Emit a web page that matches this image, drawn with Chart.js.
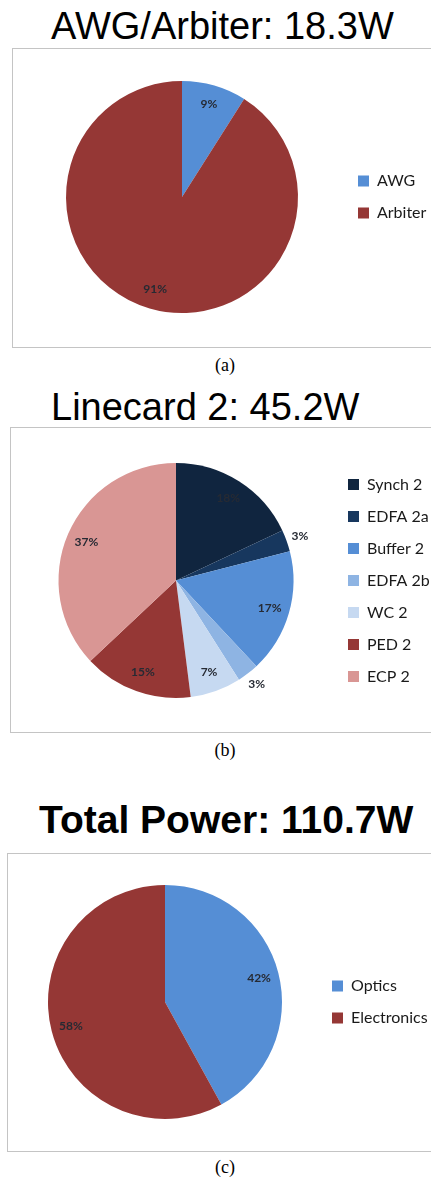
<!DOCTYPE html>
<html>
<head>
<meta charset="utf-8">
<script src="https://cdn.jsdelivr.net/npm/chart.js@4/dist/chart.umd.min.js"></script>
<style>
  html, body { margin: 0; padding: 0; background: #fff; }
  body { width: 431px; height: 1178px; position: relative; overflow: hidden; }
  .title { position: absolute; font-family: "Liberation Sans", Arial, sans-serif; font-size: 38px; line-height: 38px; color: #000; white-space: nowrap; }
  .bold { font-weight: bold; font-size: 39px; line-height: 39px; }
  .box { position: absolute; border: 1px solid #c4c4c4; box-sizing: border-box; width: 470px; }
  .cap { position: absolute; left: 0; width: 450px; text-align: center; font-family: "Liberation Serif", "Times New Roman", serif; font-size: 18px; line-height: 18px; color: #000; }
  canvas { position: absolute; }
</style>
</head>
<body>
<div class="title" style="left:51px; top:7px;">AWG/Arbiter: 18.3W</div>
<div class="box" style="left:12px; top:48px; height:300px;"></div>
<canvas id="pieA" width="460" height="300" style="left:12px; top:48px;"></canvas>
<div class="cap" style="top:356px;">(a)</div>

<div class="title" style="left:51px; top:388px;">Linecard 2: 45.2W</div>
<div class="box" style="left:10px; top:427px; height:306px;"></div>
<canvas id="pieB" width="460" height="306" style="left:10px; top:427px;"></canvas>
<div class="cap" style="top:741px;">(b)</div>

<div class="title bold" style="left:39px; top:800px;">Total Power: 110.7W</div>
<div class="box" style="left:7px; top:853px; height:299px;"></div>
<canvas id="pieC" width="460" height="299" style="left:7px; top:853px;"></canvas>
<div class="cap" style="top:1158px;">(c)</div>

<script>
// (a) AWG / Arbiter split, percent
const awgLabels = ['AWG', 'Arbiter'];
const awgValues = [9, 91];

// (b) Linecard 2 breakdown, percent
const lineLabels = ['Synch 2', 'EDFA 2a', 'Buffer 2', 'EDFA 2b', 'WC 2', 'PED 2', 'ECP 2'];
const lineValues = [18, 3, 17, 3, 7, 15, 37];

// (c) total power split, percent
const totalLabels = ['Optics', 'Electronics'];
const totalValues = [42, 58];

const blue = '#558ED5';
const red = '#953735';
const legendFont = { family: 'Lato, "Open Sans", sans-serif', size: 16 };

// percent labels: inside near the rim, small slices just outside
const pctLabels = {
    id: 'pctLabels',
    afterDatasetsDraw(chart) {
        const ctx = chart.ctx;
        const meta = chart.getDatasetMeta(0);
        const values = chart.data.datasets[0].data;
        ctx.save();
        ctx.font = 'bold 12px Lato, "Open Sans", sans-serif';
        ctx.fillStyle = '#262a33';
        ctx.textAlign = 'center';
        ctx.textBaseline = 'middle';
        meta.data.forEach((arc, i) => {
            const p = arc.getProps(['x', 'y', 'startAngle', 'endAngle', 'outerRadius'], true);
            const mid = (p.startAngle + p.endAngle) / 2;
            const r = p.outerRadius * (values[i] < 5 ? 1.12 : 0.83);
            ctx.fillText(values[i] + '%', p.x + Math.cos(mid) * r, p.y + Math.sin(mid) * r);
        });
        ctx.restore();
    }
};

// width the legend will take, so it can be pinned at a given x
function legendWidth(labels) {
    const m = document.createElement('canvas').getContext('2d');
    m.font = legendFont.size + 'px ' + legendFont.family;
    const textW = Math.max(...labels.map(t => m.measureText(t).width));
    return 16 + 11 + legendFont.size / 2 + textW + 10;
}

function makePie(id, labels, values, colors, radius, box) {
    const canvas = document.getElementById(id);
    const right = canvas.width - box.legendLeft - legendWidth(labels);
    return new Chart(canvas, {
        type: 'pie',
        data: {
            labels: labels,
            datasets: [{
                data: values,
                backgroundColor: colors,
                borderWidth: 0,
                hoverBorderWidth: 0,
                hoverOffset: 0,
                radius: radius
            }]
        },
        options: {
            responsive: false,
            animation: false,
            layout: { padding: { left: box.left, right: right, top: box.top, bottom: box.bottom } },
            plugins: {
                tooltip: { enabled: false },
                legend: {
                    position: 'right',
                    align: 'center',
                    labels: {
                        boxWidth: 11,
                        boxHeight: 11,
                        padding: 16,
                        color: '#1a1a1a',
                        font: legendFont
                    }
                }
            }
        },
        plugins: [pctLabels]
    });
}

makePie('pieA', awgLabels, awgValues, [blue, red], 116,
    { left: 10, legendLeft: 330, top: 33, bottom: 35 });

makePie('pieB', lineLabels, lineValues,
    ['#10253F', '#17375E', blue, '#8EB4E3', '#C6D9F1', red, '#D99694'], 117.5,
    { left: 10, legendLeft: 322, top: 18.5, bottom: 17.5 });

makePie('pieC', totalLabels, totalValues, [blue, red], 117,
    { left: 7, legendLeft: 309, top: 32, bottom: 33 });
</script>
</body>
</html>
